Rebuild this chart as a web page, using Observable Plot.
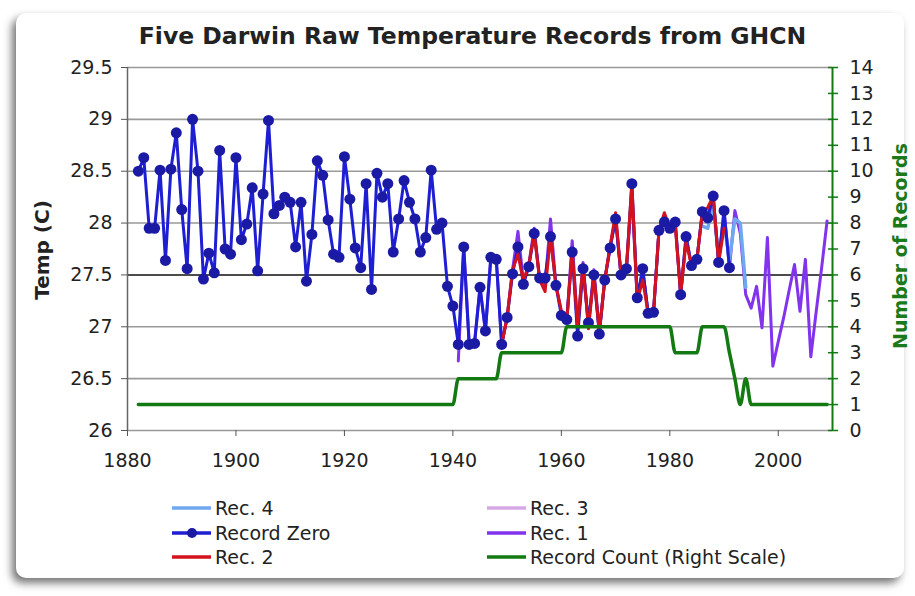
<!DOCTYPE html>
<html><head><meta charset="utf-8">
<script src="https://cdn.jsdelivr.net/npm/d3@7"></script>
<script src="https://cdn.jsdelivr.net/npm/@observablehq/plot@0.6"></script>
<style>
body{margin:0;width:915px;height:596px;background:#fff;position:relative;overflow:hidden;font-family:"DejaVu Sans",Verdana,sans-serif;color:#222;}
#box{position:absolute;left:16px;top:13px;width:888px;height:565px;background:#fff;border-radius:10px;box-shadow:-4px 5px 9px rgba(0,0,0,0.55);}
#title{position:absolute;left:0;width:945px;top:22px;text-align:center;font-weight:bold;font-size:23.5px;color:#222;white-space:nowrap;}
#chart{position:absolute;left:0;top:0;}
.ytitle{position:absolute;font-weight:bold;white-space:nowrap;transform:translate(-50%,-50%) rotate(-90deg);}
.leg{position:absolute;display:flex;align-items:center;font-size:19px;white-space:nowrap;transform:translateY(-50%);}
.leg svg{margin-right:4px;}
</style>
</head><body>
<div id="box"></div>
<div id="title">Five Darwin Raw Temperature Records from GHCN</div>
<div id="chart"></div>
<div class="ytitle" style="left:42px;top:250px;font-size:20px;">Temp (C)</div>
<div class="ytitle" style="left:900px;top:246px;font-size:19px;color:#1a7a1a;">Number of Records</div>
<div id="legend"></div>
<script>
// ---- data ----
const recordZeroStart = 1882;
const recordZero = [28.50,28.63,27.95,27.95,28.51,27.64,28.52,28.87,28.13,27.56,
29.00,28.50,27.46,27.71,27.52,28.70,27.75,27.70,28.63,27.84,
27.99,28.34,27.54,28.28,28.99,28.09,28.17,28.25,28.20,27.77,
28.20,27.44,27.89,28.60,28.46,28.03,27.70,27.67,28.64,28.23,
27.76,27.57,28.38,27.36,28.48,28.25,28.38,27.72,28.04,28.41,
28.20,28.04,27.72,27.86,28.51,27.94,28.00,27.39,27.20,26.83,
27.77,26.83,26.84,27.38,26.96,27.67,27.65,26.83,27.09,27.51,
27.77,27.41,27.58,27.90,27.47,27.47,27.87,27.40,27.11,27.07,
27.72,26.91,27.56,27.04,27.50,26.93,27.45,27.76,28.04,27.50,
27.56,28.38,27.28,27.56,27.13,27.14,27.93,28.01,27.95,28.01,
27.31,27.87,27.59,27.65,28.11,28.05,28.26,27.62,28.12,27.57];

const rec1Start = 1941;
const rec1 = [26.67,27.77,26.85,26.86,27.38,26.96,27.67,27.65,26.83,27.09,
27.55,27.92,27.44,27.60,27.95,27.45,27.40,28.04,27.40,27.15,
27.05,27.83,27.00,27.62,27.00,27.55,26.95,27.45,27.78,28.05,
27.50,27.56,28.30,27.25,27.55,27.13,27.14,27.93,28.01,27.95,
28.01,27.31,27.87,27.59,27.65,28.11,28.05,28.26,27.62,28.12,
27.57,28.12,27.90,27.31,27.18,27.39,26.99,27.86,26.62,26.86,
27.09,27.35,27.60,27.15,27.65,26.71,27.15,27.57,28.02];

const rec2Start = 1949;
const rec2 = [26.83,27.09,27.55,27.70,27.44,27.60,27.90,27.45,27.34,27.87,
27.40,27.15,27.05,27.74,27.00,27.60,26.98,27.50,26.95,27.45,
27.78,28.10,27.50,27.56,28.38,27.25,27.45,27.13,27.14,27.93,
28.10,27.95,27.98,27.31,27.82,27.59,27.65,28.10,28.15,28.26,
27.62,27.95];

const rec3Start = 1961;
const rec3 = [27.05,27.80,26.98,27.60,27.02,27.52,26.95,27.45,27.77,28.05,
27.50,27.56,28.32,27.26,27.55,27.13,27.14,27.93,28.03,27.95];

const rec4Start = 1986;
const rec4 = [27.97,27.95,28.20,27.65,28.00,27.65,28.04,28.00,27.38];

const countYears = [1882,1940,1941,1948,1949,1960,1961,1980,1981,1985,1986,1990,1991,1992,1993,1994,1995,2009];
const counts     = [1,   1,   2,   2,   3,   3,   4,   4,   3,   3,   4,   4,   3,   2,   1,   2,   1,   1];

const xTicks = [1880,1900,1920,1940,1960,1980,2000];
const tempTicks = [26,26.5,27,27.5,28,28.5,29,29.5];
const countTicks = [0,1,2,3,4,5,6,7,8,9,10,11,12,13,14];

// ---- build tables ----
const series = (start, vals) => vals.map((t, i) => ({year: start + i, t}));
const zeroData = series(recordZeroStart, recordZero);
const rec1Data = series(rec1Start, rec1);
const rec2Data = series(rec2Start, rec2);
const rec3Data = series(rec3Start, rec3);
const rec4Data = series(rec4Start, rec4);
const countData = countYears.map((year, i) => ({year, count: counts[i]}));

const xDomain = [1880, 2010];
const tMin = 26, tMax = 29.5, cMax = 14;
const toT = c => tMin + c * (tMax - tMin) / cMax;   // right scale -> left scale

const C = {zeroLine:"#1e1ed2", zeroDot:"#1a1aa4", rec1:"#8133ee", rec2:"#d4121e", rec3:"#d7a8e6", rec4:"#70a8f0", count:"#137a13"};

const chart = Plot.plot({
  width: 915, height: 480,
  marginLeft: 127, marginRight: 83, marginTop: 67, marginBottom: 50,
  x: {domain: xDomain},
  y: {domain: [tMin, tMax]},
  style: {fontFamily: "DejaVu Sans, Verdana, sans-serif", fontSize: "19px", color: "#222", background: "transparent", overflow: "visible"},
  marks: [
    Plot.ruleY(tempTicks, {stroke: d => d === 27.5 ? "#111" : "#999", strokeWidth: 1.6}),
    Plot.line(rec3Data, {x: "year", y: "t", stroke: C.rec3, strokeWidth: 3}),
    Plot.line(rec1Data, {x: "year", y: "t", stroke: C.rec1, strokeWidth: 3}),
    Plot.line(rec4Data, {x: "year", y: "t", stroke: C.rec4, strokeWidth: 3.5}),
    Plot.line(zeroData, {x: "year", y: "t", stroke: C.zeroLine, strokeWidth: 3}),
    Plot.line(rec2Data, {x: "year", y: "t", stroke: C.rec2, strokeWidth: 3}),
    Plot.dot(zeroData, {x: "year", y: "t", r: 5.5, fill: C.zeroDot, stroke: "none"}),
    Plot.line(countData, {x: "year", y: d => toT(d.count), stroke: C.count, strokeWidth: 3.5, curve: "monotone-x"}),
    Plot.ruleX([xDomain[0]], {stroke: "#666", strokeWidth: 1.5}),
    Plot.ruleX([xDomain[1]], {stroke: C.count, strokeWidth: 2}),
    Plot.axisY(tempTicks, {anchor: "left", tickSize: 6, tickPadding: 9, tickFormat: d => String(d), label: null, stroke: "#555"}),
    Plot.axisX(xTicks, {anchor: "bottom", tickSize: 6, tickPadding: 17, tickFormat: d => String(d), label: null, stroke: "#555"}),
    Plot.axisY(countTicks.map(toT), {anchor: "right", tickSize: 10, dx: -5, fill: "none", stroke: C.count, strokeWidth: 1.5, label: null}),
    Plot.axisY(countTicks.map(toT), {anchor: "right", tickSize: 0, tickPadding: 17, tickFormat: d => String(Math.round((d - tMin) * cMax / (tMax - tMin))), label: null})
  ]
});
document.getElementById("chart").appendChild(chart);

// ---- legend ----
const legendItems = [
  {label: "Rec. 4", color: C.rec4, col: 0, row: 0},
  {label: "Record Zero", color: C.zeroLine, col: 0, row: 1, dot: true},
  {label: "Rec. 2", color: C.rec2, col: 0, row: 2},
  {label: "Rec. 3", color: C.rec3, col: 1, row: 0},
  {label: "Rec. 1", color: C.rec1, col: 1, row: 1},
  {label: "Record Count (Right Scale)", color: C.count, col: 1, row: 2}
];
const legX = [172, 487], legY = [508, 533, 557];
const leg = document.getElementById("legend");
for (const it of legendItems) {
  const d = document.createElement("div");
  d.className = "leg";
  d.style.left = legX[it.col] + "px";
  d.style.top = legY[it.row] + "px";
  d.innerHTML = `<svg width="39" height="14"><line x1="0" x2="39" y1="7" y2="7" stroke="${it.color}" stroke-width="3.5"/>` +
    (it.dot ? `<circle cx="20" cy="7" r="5" fill="${C.zeroDot}"/>` : "") + `</svg><span>${it.label}</span>`;
  leg.appendChild(d);
}
</script>
</body></html>
